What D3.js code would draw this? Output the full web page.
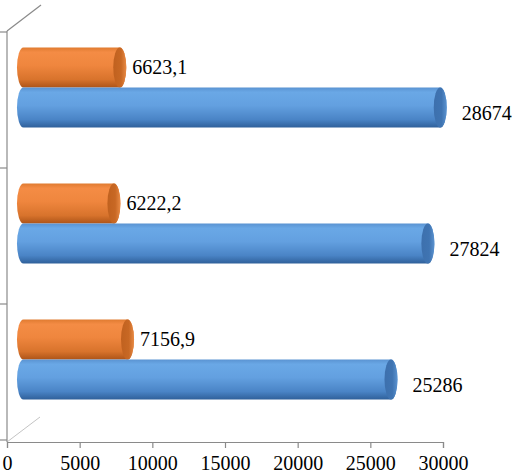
<!DOCTYPE html>
<html><head><meta charset="utf-8">
<script src="https://cdn.jsdelivr.net/npm/d3@7"></script>
<style>html,body{margin:0;padding:0;background:#fff;}svg{display:block;}
.serif{font-family:"Liberation Serif","Times New Roman","DejaVu Serif",serif;}</style>
</head><body>
<script>
// Data (categories listed top to bottom as drawn)
const categories = ["3", "2", "1"];
const seriesNames = ["orange", "blue"];
const orangeValues = [6623.1, 6222.2, 7156.9];
const blueValues = [28674, 27824, 25286];
const orangeLabels = ["6623,1", "6222,2", "7156,9"];
const blueLabels = ["28674", "27824", "25286"];
const tickValues = [0, 5000, 10000, 15000, 20000, 25000, 30000];

const W = 512, H = 475;
const depthX = 33, depthY = -25;       // full 3D depth
const midX = depthX / 2, midY = depthY / 2;

const svg = d3.select("body").append("svg").attr("width", W).attr("height", H);
const defs = svg.append("defs");

function vgrad(id, stops) {
  const g = defs.append("linearGradient").attr("id", id)
    .attr("x1", 0).attr("y1", 0).attr("x2", 0).attr("y2", 1);
  stops.forEach(s => g.append("stop").attr("offset", s[0]).attr("stop-color", s[1]));
}
vgrad("gBlue", [[0, "#5a93d2"], [0.12, "#6aa8e6"], [0.45, "#63a0e0"], [0.8, "#4a84c6"], [1, "#2f609a"]]);
vgrad("gOrange", [[0, "#e07b30"], [0.12, "#f48c45"], [0.45, "#ef863e"], [0.8, "#d8732c"], [1, "#ad5418"]]);
function hgrad(id, stops) {
  const g = defs.append("linearGradient").attr("id", id)
    .attr("x1", 0).attr("y1", 0).attr("x2", 1).attr("y2", 0);
  stops.forEach(s => g.append("stop").attr("offset", s[0]).attr("stop-color", s[1]));
}
hgrad("cBlue", [[0, "#3d70ad"], [0.6, "#3f74b2"], [1, "#5b93d0"]]);
hgrad("cOrange", [[0, "#c0611f"], [0.6, "#c86824"], [1, "#e88a45"]]);

const x = d3.scaleLinear().domain([0, 30000]).range([7, 443]);
const y = d3.scaleBand().domain(categories).range([32, 440]).padding(0);
const ys = d3.scaleBand().domain(seriesNames).range([0, y.bandwidth()]).paddingInner(0).paddingOuter(0.7);

// walls / axes lines
svg.append("line").attr("x1", 7).attr("y1", 442).attr("x2", 7 + depthX).attr("y2", 442 + depthY)
  .attr("stroke", "#c4c4c4").attr("stroke-width", 1);
svg.append("line").attr("x1", 7).attr("y1", 31).attr("x2", 7 + depthX + 1).attr("y2", 31 + depthY - 1)
  .attr("stroke", "#8a8a8a").attr("stroke-width", 1.2);
svg.append("line").attr("x1", 7).attr("y1", 31).attr("x2", 7).attr("y2", 442)
  .attr("stroke", "#8a8a8a").attr("stroke-width", 1.2);
const bounds = [y(categories[0])].concat(categories.map(c => y(c) + y.bandwidth()));
svg.selectAll("line.ct").data(bounds).enter().append("line").attr("class", "ct")
  .attr("x1", 0).attr("x2", 7).attr("y1", d => d).attr("y2", d => d)
  .attr("stroke", "#8a8a8a").attr("stroke-width", 1.2);

// bottom axis
const ax = svg.append("g").attr("transform", "translate(0,442)")
  .call(d3.axisBottom(x).tickValues(tickValues).tickSizeOuter(0).tickSize(6).tickFormat(d3.format("d")));
ax.attr("font-family", null).attr("font-size", null);
ax.select(".domain").attr("stroke", "#8a8a8a").attr("stroke-width", 1.2);
ax.selectAll(".tick line").attr("stroke", "#8a8a8a").attr("stroke-width", 1.2);
ax.selectAll(".tick text").attr("y", 28).attr("dy", 0).attr("class", "serif")
  .style("font-size", "20px").attr("fill", "#000");

// bars
const rows = [];
categories.forEach((c, i) => {
  rows.push({cat: c, s: "orange", v: orangeValues[i], label: orangeLabels[i]});
  rows.push({cat: c, s: "blue", v: blueValues[i], label: blueLabels[i]});
});
const rx = 6.5;
const bars = svg.append("g");
rows.forEach(d => {
  const t = y(d.cat) + ys(d.s) + midY;
  const h = ys.bandwidth();
  const ry = h / 2;
  const x0 = x(0) + midX, x1 = x(d.v) + midX;
  const path = `M${x0},${t} L${x1},${t} A${rx},${ry} 0 0 1 ${x1},${t + h} L${x0},${t + h} A${rx},${ry} 0 0 1 ${x0},${t} Z`;
  bars.append("path").attr("d", path).attr("fill", d.s === "blue" ? "url(#gBlue)" : "url(#gOrange)");
  bars.append("ellipse").attr("cx", x1).attr("cy", t + ry).attr("rx", rx).attr("ry", ry)
    .attr("fill", d.s === "blue" ? "url(#cBlue)" : "url(#cOrange)");
  const lx = x1 + rx + (d.s === "blue" ? 15 : 6);
  const ly = t + ry + (d.s === "blue" ? 12 : 6);
  svg.append("text").attr("class", "serif").attr("x", lx).attr("y", ly).text(d.label)
    .style("font-size", "20px").attr("fill", "#000");
});
</script>
</body></html>
